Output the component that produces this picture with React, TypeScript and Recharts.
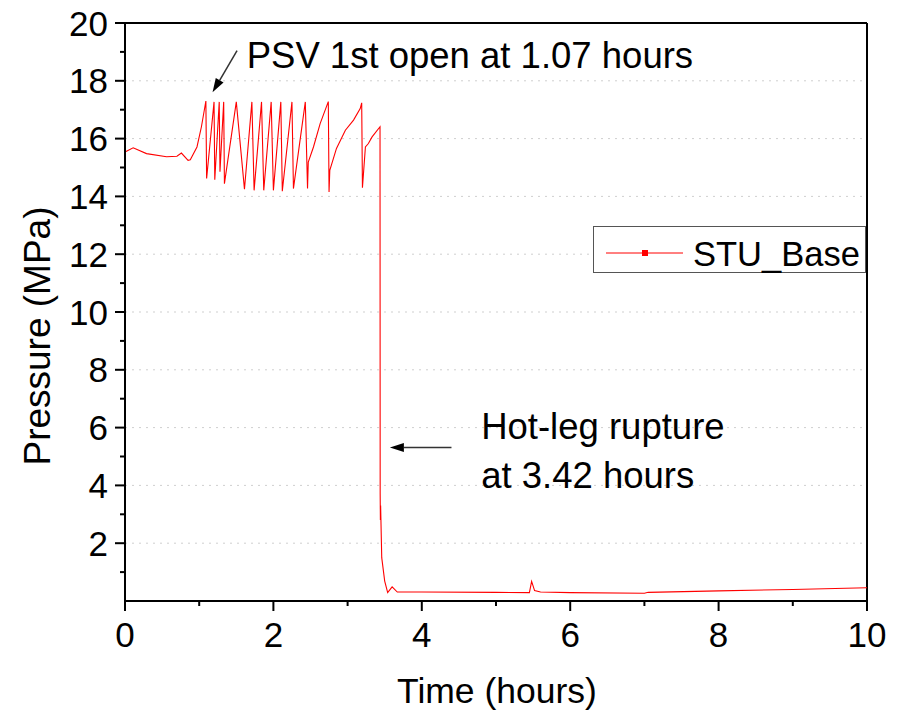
import React from "react"
import {
  Legend,
  Line,
  LineChart,
  ReferenceDot,
  ReferenceLine,
  XAxis,
  YAxis,
} from "recharts"

// Pressurizer pressure.
const TIME_H = [
  0.0, 0.11, 0.29, 0.56, 0.7, 0.76, 0.85, 0.88, 0.97, 1.03, 1.09, 1.1, 1.2,
  1.21, 1.27, 1.28, 1.33, 1.34, 1.5, 1.61, 1.71, 1.74, 1.84, 1.87, 1.97, 2.0,
  2.1, 2.12, 2.25, 2.27, 2.43, 2.46, 2.47, 2.54, 2.63, 2.74, 2.75, 2.76, 2.85,
  2.97, 3.08, 3.17, 3.19, 3.2, 3.24, 3.28, 3.33, 3.437, 3.439, 3.442, 3.445,
  3.46, 3.5, 3.54, 3.6, 3.67, 4.0, 5.0, 5.45, 5.48, 5.52, 5.6, 6.0, 7.0, 7.05,
  8.0, 9.0, 10.0,
]
const PRESSURE_MPA = [
  15.54, 15.68, 15.48, 15.37, 15.39, 15.5, 15.25, 15.27, 15.71, 16.41, 17.3,
  14.62, 17.27, 14.58, 17.27, 14.85, 17.27, 14.44, 17.27, 14.25, 17.27, 14.21,
  17.27, 14.21, 17.27, 14.21, 17.27, 14.18, 17.27, 14.27, 17.27, 14.27, 15.19,
  15.71, 16.52, 17.28, 14.15, 14.9, 15.66, 16.29, 16.64, 17.04, 17.24, 14.3,
  15.71, 15.83, 16.06, 16.41, 3.7, 2.8, 3.3, 1.5, 0.69, 0.29, 0.49, 0.31, 0.31,
  0.3, 0.29, 0.68, 0.36, 0.31, 0.29, 0.27, 0.3, 0.35, 0.4, 0.46,
]
const SERIES_NAME = "STU_Base"

const X_TICKS = [0, 1, 2, 3, 4, 5, 6, 7, 8, 9, 10]
const Y_TICKS = [
  0, 1, 2, 3, 4, 5, 6, 7, 8, 9, 10, 11, 12, 13, 14, 15, 16, 17, 18, 19, 20,
]
const GRID_Y = [2, 4, 6, 8, 10, 12, 14, 16, 18]

// annotations, in data units
const PSV_NOTE = { t: 1.64, p: 18.89, text: "PSV 1st open at 1.07 hours" }
const PSV_ARROW = [
  { x: 1.51, y: 19.04 },
  { x: 1.18, y: 17.6 },
]
const RUPTURE_NOTE = [
  { t: 4.8, p: 6.05, text: "Hot-leg rupture" },
  { t: 4.8, p: 4.36, text: "at 3.42 hours" },
]
const RUPTURE_ARROW = [
  { x: 4.4, y: 5.31 },
  { x: 3.57, y: 5.31 },
]

const data = TIME_H.map((t, i) => ({ t, p: PRESSURE_MPA[i] }))

const FONT = "'Liberation Sans', Arial, sans-serif"
const FS = 35
const NOTE_FS = 36.5
const RED = "#ff0000"

const YTick = ({ x, y, payload }: any) => {
  const v = payload.value
  if (v === 0) return null
  const major = v % 2 === 0
  return (
    <g>
      <line x1={x} x2={x - (major ? 10 : 5)} y1={y} y2={y} stroke="#000" strokeWidth={2} />
      {major && (
        <text
          x={x - 17}
          y={y}
          textAnchor="end"
          dominantBaseline="central"
          fontSize={FS}
          fontFamily={FONT}
          fill="#000"
        >
          {v}
        </text>
      )}
    </g>
  )
}

const XTick = ({ x, y, payload }: any) => {
  const v = payload.value
  const major = v % 2 === 0
  return (
    <g>
      <line x1={x} x2={x} y1={y} y2={y + (major ? 10 : 5)} stroke="#000" strokeWidth={2} />
      {major && (
        <text
          x={x}
          y={y + 33}
          textAnchor="middle"
          dominantBaseline="central"
          fontSize={FS}
          fontFamily={FONT}
          fill="#000"
        >
          {v}
        </text>
      )}
    </g>
  )
}

const Arrow = ({ x1, y1, x2, y2 }: any) => {
  const a = Math.atan2(y2 - y1, x2 - x1)
  const len = 14
  const w = 4.5
  const bx = x2 - len * Math.cos(a)
  const by = y2 - len * Math.sin(a)
  const pts = [
    [x2, y2],
    [bx - w * Math.sin(a), by + w * Math.cos(a)],
    [bx + w * Math.sin(a), by - w * Math.cos(a)],
  ]
    .map((q) => q.join(","))
    .join(" ")
  return (
    <g>
      <line x1={x1} y1={y1} x2={bx} y2={by} stroke="#333" strokeWidth={1.5} />
      <polygon points={pts} fill="#000" />
    </g>
  )
}

const LegendBox = () => (
  <svg width={274} height={48} style={{ display: "block" }}>
    <rect x={0.5} y={0.5} width={272} height={46} fill="#fff" stroke="#555" strokeWidth={1} />
    <line x1={13} x2={90} y1={27} y2={27} stroke={RED} strokeWidth={1} />
    <rect x={49} y={24} width={6} height={6} fill={RED} />
    <text x={100} y={28} dominantBaseline="central" fontSize={34.5} fontFamily={FONT} fill="#000">
      {SERIES_NAME}
    </text>
  </svg>
)

export default function App() {
  return (
    <div style={{ position: "absolute", left: 0, top: 0, background: "#fff" }}>
      <LineChart
        width={900}
        height={713}
        data={data}
        margin={{ top: 23, right: 33, bottom: 0, left: 0 }}
        style={{ fontFamily: FONT }}
      >
        {GRID_Y.map((g) => (
          <ReferenceLine key={g} y={g} stroke="#cfcfcf" strokeWidth={1} strokeDasharray="2 5" />
        ))}
        <XAxis
          type="number"
          dataKey="t"
          domain={[0, 10]}
          ticks={X_TICKS}
          interval={0}
          height={112}
          tickSize={0}
          tickMargin={0}
          tickLine={false}
          axisLine={{ stroke: "#000", strokeWidth: 2 }}
          tick={<XTick />}
          label={(props: any) => {
            const vb = props.viewBox
            return (
              <text
                x={vb.x + vb.width / 2 + 1}
                y={vb.y + 90}
                textAnchor="middle"
                dominantBaseline="central"
                fontSize={35.5}
                fontFamily={FONT}
                fill="#000"
              >
                Time (hours)
              </text>
            )
          }}
        />
        <YAxis
          type="number"
          domain={[0, 20]}
          ticks={Y_TICKS}
          interval={0}
          width={125}
          tickSize={0}
          tickMargin={0}
          tickLine={false}
          axisLine={{ stroke: "#000", strokeWidth: 2 }}
          tick={<YTick />}
          label={(props: any) => {
            const vb = props.viewBox
            const cx = vb.x + 37
            const cy = vb.y + vb.height / 2 + 24
            return (
              <text
                x={cx}
                y={cy}
                transform={`rotate(-90 ${cx} ${cy})`}
                textAnchor="middle"
                dominantBaseline="central"
                fontSize={37}
                fontFamily={FONT}
                fill="#000"
              >
                Pressure (MPa)
              </text>
            )
          }}
        />
        <ReferenceLine y={20} stroke="#000" strokeWidth={2} />
        <ReferenceLine x={10} stroke="#000" strokeWidth={2} />
        <Line
          type="linear"
          dataKey="p"
          name={SERIES_NAME}
          stroke={RED}
          strokeWidth={1.1}
          dot={false}
          isAnimationActive={false}
        />
        <ReferenceLine segment={PSV_ARROW} ifOverflow="visible" shape={<Arrow />} />
        <ReferenceLine segment={RUPTURE_ARROW} ifOverflow="visible" shape={<Arrow />} />
        <ReferenceDot
          x={PSV_NOTE.t}
          y={PSV_NOTE.p}
          r={0}
          fill="none"
          stroke="none"
          label={{ value: PSV_NOTE.text, position: "right", offset: 0, fontSize: NOTE_FS, fill: "#000" }}
        />
        {RUPTURE_NOTE.map((n) => (
          <ReferenceDot
            key={n.text}
            x={n.t}
            y={n.p}
            r={0}
            fill="none"
            stroke="none"
            label={{ value: n.text, position: "right", offset: 0, fontSize: NOTE_FS, fill: "#000" }}
          />
        ))}
        <Legend
          layout="vertical"
          align="center"
          verticalAlign="middle"
          content={() => <LegendBox />}
          wrapperStyle={{ left: 593, top: 226, width: 274, height: 48 }}
        />
      </LineChart>
    </div>
  )
}
